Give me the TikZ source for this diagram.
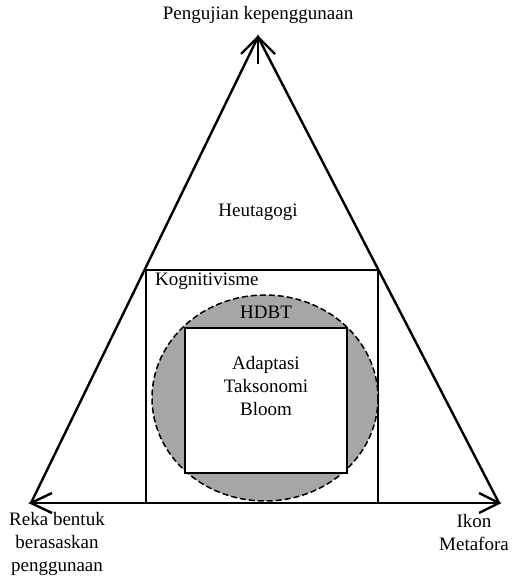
\documentclass[tikz,border=0pt]{standalone}
\usepackage{fontspec}
\setmainfont{Liberation Serif}
\definecolor{hdbtgray}{HTML}{A6A6A6}
\tikzset{
  lbl/.style={font=\fontsize{19}{23}\selectfont, align=center, inner sep=0pt},
  side/.style={line width=2.4pt, line join=miter},
  frame/.style={draw, line width=1.5pt}
}
\begin{document}
\begin{tikzpicture}[x=1pt,y=-1pt]
  \useasboundingbox (0,0) rectangle (512,577);
  % triangle corners
  \coordinate (apex) at (258,37);
  \coordinate (stem) at (258,64);
  \coordinate (left) at (31,503);
  \coordinate (right) at (499,503);
  % Kognitivisme frame
  \draw[frame] (146,270) rectangle (378,503);
  % HDBT shaded ellipse and inner box
  \fill[hdbtgray] (265,398) ellipse [x radius=113, y radius=103];
  \draw[line width=1.5pt, dash pattern=on 6pt off 3pt] (265,398) ellipse [x radius=113, y radius=103];
  \draw[frame, fill=white] (185,328) rectangle (347,473);
  % triangle sides and base
  \draw[side] (left) -- (apex) -- (right);
  \draw[side] (left) -- (right);
  \draw[side] (stem) -- (apex);
  % open arrowheads at the three corners
  \draw[side] (apex) ++(-17,17) -- (apex) -- ++(17,17);
  \draw[side] (left) ++(21,-10) -- (left) -- ++(21,10);
  \draw[side] (right) ++(-20,-10) -- (right) -- ++(-20,10);
  % labels
  \node[lbl] (top) at (258,15) {Pengujian kepenggunaan};
  \node[lbl] (heu) at (258,212) {Heutagogi};
  \node[lbl, anchor=west] (kog) at (155,281) {Kognitivisme};
  \node[lbl] (hdbt) at (266,312) {HDBT};
  \node[lbl] (bloom) at (266,386) {Adaptasi\\Taksonomi\\Bloom};
  \node[lbl] (reka) at (57,544) {Reka bentuk\\berasaskan\\penggunaan};
  \node[lbl] (ikon) at (474,532) {Ikon\\Metafora};
\end{tikzpicture}
\end{document}
